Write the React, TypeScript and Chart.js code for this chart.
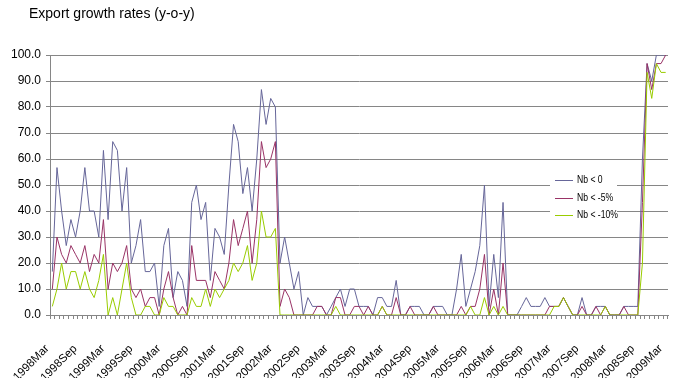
import React, { useEffect, useRef } from "react";
import { Chart, registerables } from "chart.js";

Chart.register(...registerables);

const TITLE = "Export growth rates (y-o-y)";
const MONTH_NAMES = ["Jan", "Feb", "Mar", "Apr", "May", "Jun", "Jul", "Aug", "Sep", "Oct", "Nov", "Dec"];
const START_YEAR = 1998;
const START_MONTH = 2; // March
const N_MONTHS = 133; // 1998Mar .. 2009Mar

const CATEGORIES: string[] = Array.from({ length: N_MONTHS }, (_, i) => {
  const m = START_MONTH + i;
  return `${START_YEAR + Math.floor(m / 12)}${MONTH_NAMES[m % 12]}`;
});

const TICK_LABELS = [
  "1998Mar", "1998Sep", "1999Mar", "1999Sep", "2000Mar", "2000Sep", "2001Mar", "2001Sep",
  "2002Mar", "2002Sep", "2003Mar", "2003Sep", "2004Mar", "2004Sep", "2005Mar", "2005Sep",
  "2006Mar", "2006Sep", "2007Mar", "2007Sep", "2008Mar", "2008Sep", "2009Mar",
];

const SERIES_NAMES = ["Nb < 0", "Nb < -5%", "Nb < -10%"];

// share of countries with negative export growth (%), monthly
const NB_0 = [
  16.7, 56.7, 40, 26.7, 36.7, 30, 40, 56.7, 40, 40,
  30, 63.3, 36.7, 66.7, 63.3, 40, 56.7, 20, 26.7, 36.7, 16.7, 16.7,
  20, 3.3, 26.7, 33.3, 6.7, 16.7, 13.3, 3.3, 43.3, 50, 36.7, 43.3,
  13.3, 33.3, 30, 23.3, 50, 73.3, 66.7, 46.7, 56.7, 40, 60, 86.7,
  73.3, 83.3, 80, 20, 30, 20, 10, 16.7, 0, 6.7, 3.3, 3.3,
  3.3, 0, 3.3, 6.7, 10, 3.3, 10, 10, 3.3, 3.3, 3.3, 0,
  6.7, 6.7, 3.3, 3.3, 13.3, 0, 0, 3.3, 3.3, 3.3, 0, 0,
  3.3, 3.3, 3.3, 0, 0, 10, 23.3, 3.3, 10, 16.7, 26.7, 50,
  3.3, 23.3, 6.7, 43.3, 0, 0, 0, 3.3, 6.7, 3.3, 3.3, 3.3,
  6.7, 3.3, 3.3, 3.3, 6.7, 3.3, 0, 0, 6.7, 0, 0, 3.3,
  3.3, 3.3, 0, 0, 0, 3.3, 3.3, 3.3, 3.3, 60, 96.7, 90,
  100, 100, 100,
];

const NB_5 = [
  10, 30, 23.3, 20, 26.7, 23.3, 20, 26.7, 16.7, 23.3,
  20, 36.7, 10, 20, 16.7, 20, 26.7, 10, 6.7, 10, 3.3, 6.7,
  6.7, 0, 10, 16.7, 6.7, 0, 3.3, 0, 26.7, 13.3, 13.3, 13.3,
  6.7, 16.7, 13.3, 10, 20, 36.7, 26.7, 33.3, 40, 20, 36.7, 66.7,
  56.7, 60, 66.7, 3.3, 10, 6.7, 0, 0, 0, 0, 0, 3.3,
  3.3, 0, 0, 6.7, 6.7, 0, 0, 3.3, 3.3, 0, 3.3, 0,
  0, 3.3, 0, 0, 6.7, 0, 0, 3.3, 0, 0, 0, 0,
  3.3, 0, 0, 0, 0, 0, 3.3, 0, 3.3, 3.3, 10, 23.3,
  0, 10, 0, 20, 0, 0, 0, 0, 0, 0, 0, 0,
  0, 3.3, 3.3, 3.3, 6.7, 3.3, 0, 0, 3.3, 0, 0, 3.3,
  0, 3.3, 0, 0, 0, 3.3, 0, 0, 0, 43.3, 96.7, 86.7,
  96.7, 96.7, 100,
];

const NB_10 = [
  3.3, 10, 20, 10, 16.7, 16.7, 10, 16.7, 10, 6.7,
  13.3, 23.3, 0, 6.7, 0, 10, 20, 6.7, 0, 0, 3.3, 3.3,
  0, 0, 6.7, 3.3, 3.3, 0, 0, 0, 6.7, 3.3, 3.3, 10,
  3.3, 10, 6.7, 10, 13.3, 20, 16.7, 20, 26.7, 13.3, 20, 40,
  30, 30, 33.3, 0, 0, 0, 0, 0, 0, 0, 0, 0,
  0, 0, 0, 3.3, 0, 0, 0, 0, 0, 0, 0, 0,
  0, 3.3, 0, 0, 0, 0, 0, 0, 0, 0, 0, 0,
  0, 0, 0, 0, 0, 0, 0, 0, 3.3, 0, 0, 6.7,
  0, 3.3, 0, 3.3, 0, 0, 0, 0, 0, 0, 0, 0,
  0, 0, 3.3, 3.3, 6.7, 3.3, 0, 0, 0, 0, 0, 0,
  0, 3.3, 0, 0, 0, 0, 0, 0, 0, 20, 93.3, 83.3,
  96.7, 93.3, 93.3,
];

const Y_MIN = 0;
const Y_MAX = 100;
const Y_STEP = 10;

const COLORS = ["#666699", "#993366", "#99CC00"];
const GRID = "#868686";
const FONT = '"Liberation Sans", Arial, sans-serif';

const overlayPlugin = {
  id: "overlay",
  afterDraw(chart: any) {
    const ctx = chart.ctx as CanvasRenderingContext2D;
    ctx.save();
    ctx.fillStyle = "#000";
    ctx.font = `14px ${FONT}`;
    ctx.textBaseline = "alphabetic";
    ctx.textAlign = "left";
    ctx.fillText(TITLE, 29, 18);

    // legend box
    ctx.fillStyle = "#fff";
    ctx.fillRect(550, 171, 67, 54);
    chart.data.datasets.forEach((ds: any, k: number) => {
      const y = Math.round(180 + k * 17.5) + 0.5;
      ctx.strokeStyle = ds.borderColor;
      ctx.lineWidth = 1;
      ctx.beginPath();
      ctx.moveTo(555, y);
      ctx.lineTo(573, y);
      ctx.stroke();
      ctx.save();
      ctx.translate(577, y);
      ctx.scale(0.82, 1);
      ctx.font = `10.5px ${FONT}`;
      ctx.fillStyle = "#000";
      ctx.textBaseline = "middle";
      ctx.fillText(ds.label, 0, 0);
      ctx.restore();
    });
    ctx.restore();
  },
};

export default function App() {
  const ref = useRef<HTMLCanvasElement | null>(null);

  useEffect(() => {
    if (!ref.current) return;
    const series = [NB_0, NB_5, NB_10];
    const chart = new Chart(ref.current, {
      type: "line",
      data: {
        labels: CATEGORIES,
        datasets: series.map((d, k) => ({
          label: SERIES_NAMES[k],
          data: d,
          borderColor: COLORS[k],
          backgroundColor: COLORS[k],
          borderWidth: 1,
          pointRadius: 0,
          pointHoverRadius: 0,
          tension: 0,
          fill: false,
          order: 3 - k,
        })),
      },
      options: {
        responsive: false,
        maintainAspectRatio: false,
        devicePixelRatio: 1,
        animation: false,
        events: [],
        layout: { padding: { top: 55, right: 7, bottom: 0, left: 0 } },
        plugins: {
          legend: { display: false },
          title: { display: false },
          tooltip: { enabled: false },
        },
        scales: {
          x: {
            type: "category",
            offset: true,
            grid: {
              display: true,
              offset: true,
              drawOnChartArea: false,
              drawTicks: true,
              tickLength: 4,
              color: GRID,
              lineWidth: 1,
            },
            border: { display: true, color: GRID, width: 1 },
            ticks: {
              autoSkip: false,
              maxRotation: 45,
              minRotation: 45,
              padding: 23,
              labelOffset: -5,
              color: "#000",
              font: { family: FONT, size: 11.5 },
              callback: function (this: any, _v: any, i: number) {
                const lab = CATEGORIES[i];
                return TICK_LABELS.includes(lab) ? lab : "";
              },
            },
            afterFit(scale: any) {
              scale.height = 63;
              scale.paddingLeft = 0;
              scale.paddingRight = 0;
            },
          },
          y: {
            min: Y_MIN,
            max: Y_MAX,
            grid: {
              color: GRID,
              lineWidth: 1,
              drawTicks: true,
              tickLength: 4,
            },
            border: { display: true, color: GRID, width: 1 },
            ticks: {
              stepSize: Y_STEP,
              padding: 5,
              color: "#000",
              font: { family: FONT, size: 12 },
              callback: (v: any) => Number(v).toFixed(1),
            },
            afterFit(scale: any) {
              scale.width = 50;
            },
          },
        },
      },
      plugins: [overlayPlugin],
    });
    return () => chart.destroy();
  }, []);

  return (
    <div style={{ position: "fixed", left: 0, top: 0, width: 675, height: 378, background: "#fff" }}>
      <canvas ref={ref} width={675} height={378} style={{ display: "block", width: 675, height: 378 }} />
    </div>
  );
}
